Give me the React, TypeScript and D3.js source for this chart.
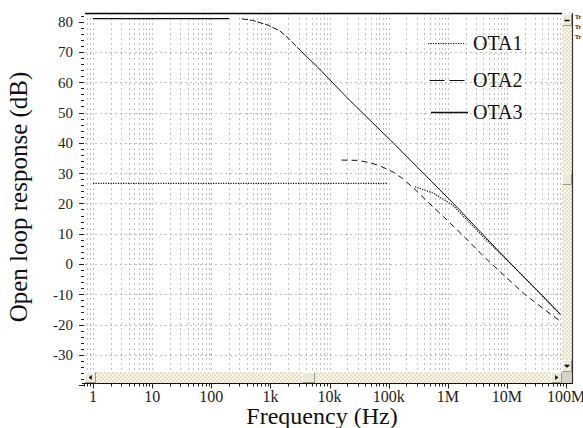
import React from "react";
import * as d3 from "d3";

// ---- data ----
const xTickValues = [1, 10, 100, 1e3, 1e4, 1e5, 1e6, 1e7, 1e8];
const xTickLabels = ["1", "10", "100", "1k", "10k", "100k", "1M", "10M", "100M"];
const yTickValues = [80, 70, 60, 50, 40, 30, 20, 10, 0, -10, -20, -30];
const seriesNames = ["OTA1", "OTA2", "OTA3"];

const ota1Freq = [1, 10, 100, 1000, 10000, 95000, null, 280000, 570000, 1.2e6, 4e6, 1e7, 4e7, 8e7];
const ota1Db = [26.6, 26.6, 26.6, 26.6, 26.6, 26.6, null, 25.5, 23.4, 19.5, 8.9, 1.4, -10.5, -16.6];

const ota2Freq = [16000, 30000, 50000, 75000, 120000, 170000, 280000, 500000, 850000, 2e6, 4e6, 1e7, 2e7, 4e7, 7.5e7];
const ota2Db = [34.3, 34.2, 33.4, 32.2, 30.3, 28.3, 24.6, 19.8, 15.6, 8.6, 2.6, -4.6, -10, -14.5, -18.5];

const ota3Freq = [1, 10, 100, 200, null, 330, 500, 920, 1450, 2150, 3200, 6200, 22000, 107000, 1.23e6, 1e7, 4e7, 8e7];
const ota3Db = [81, 81, 81, 81, null, 80.9, 80.4, 78.8, 76.9, 74.0, 70.5, 65.1, 54, 40.9, 20.1, 1.4, -10.5, -16.6];

type Pt = { f: number | null; v: number | null };
const zip = (fs: (number | null)[], vs: (number | null)[]): Pt[] => fs.map((f, i) => ({ f, v: vs[i] }));

const W = 583;
const H = 428;
const plotL = 85;
const plotR = 562;
const plotT = 13;
const hsbT = 372;
const axisY = 383.5;
const serif = "Liberation Serif";

export default function App() {
  const x = d3.scaleLog().domain([1, 1e8]).range([93, 566]);
  const y = d3.scaleLinear().domain([0, 80]).range([264, 21.6]);

  const line = d3
    .line<Pt>()
    .defined((d) => d.f != null && d.v != null)
    .x((d) => x(d.f as number))
    .y((d) => y(d.v as number));

  const logVals: number[] = [];
  for (let k = -1; k <= 8; k++) {
    for (let m = 1; m <= 9; m++) logVals.push(m * Math.pow(10, k));
  }
  const gridX = logVals.filter((f) => x(f) >= plotL && x(f) < plotR);
  const tickX = logVals.filter((f) => x(f) >= 82 && x(f) <= 572);
  const yMinor = d3.range(-40, 84, 2);

  const ota3 = zip(ota3Freq, ota3Db);
  const ota3Dashed = ota3.filter((d) => d.f != null && d.f > 300 && d.f <= 3200);
  const ota3B = ota3.filter((d) => d.f != null && d.f >= 3200);
  const ota3Flat = ota3.filter((d) => d.f != null && d.f <= 200);

  const legendY = [43, 80, 112];
  const legendDash = ["1.2,1.3", "15,5", ""];
  const txt = (size: number) => ({ fontFamily: serif, fontSize: size });

  return (
    <svg width={W} height={H} style={{ position: "absolute", left: 0, top: 0, display: "block", background: "#fff" }}>
      <defs>
        <pattern id="chk" width="4" height="4" patternUnits="userSpaceOnUse">
          <rect width="4" height="4" fill="#f8f6ec" />
          <rect width="2" height="2" fill="#e6e1c6" />
          <rect x="2" y="2" width="2" height="2" fill="#e6e1c6" />
        </pattern>
        <clipPath id="plotclip">
          <rect x={plotL} y={plotT} width={plotR - plotL} height={hsbT - plotT} />
        </clipPath>
      </defs>

      {/* grid */}
      <g stroke="#c2c2c2" strokeWidth={1} strokeDasharray="2,3" fill="none">
        {gridX.map((f, i) => (
          <line key={"gx" + i} x1={Math.round(x(f)) + 0.5} x2={Math.round(x(f)) + 0.5} y1={plotT} y2={hsbT} />
        ))}
        {yTickValues
          .filter((v) => v < 80)
          .map((v) => (
            <line key={"gy" + v} x1={plotL} x2={plotR} y1={Math.round(y(v)) + 0.5} y2={Math.round(y(v)) + 0.5} />
          ))}
      </g>

      {/* curves */}
      <g clipPath="url(#plotclip)" fill="none" stroke="#111" strokeWidth={1}>
        <path d={line(zip(ota1Freq, ota1Db)) || ""} strokeDasharray="1.2,1.3" strokeWidth={1.2} />
        <path d={line(zip(ota2Freq, ota2Db)) || ""} strokeDasharray="6,4" />
        <path d={line(ota3Flat) || ""} strokeWidth={1.2} />
        <path d={line(ota3Dashed) || ""} strokeDasharray="6,2" />
        <path d={line(ota3B) || ""} />
      </g>

      {/* legend */}
      {seriesNames.map((name, i) => (
        <g key={name}>
          <line
            x1={428 + i * 1.5}
            x2={465 + i * 1.5}
            y1={legendY[i] + 0.5}
            y2={legendY[i] + 0.5}
            stroke="#111"
            strokeWidth={i === 2 ? 1.5 : 1.2}
            strokeDasharray={legendDash[i] || undefined}
          />
          <text x={473} y={legendY[i] + 7} style={txt(20)} fill="#111">
            {name}
          </text>
        </g>
      ))}

      {/* top frame */}
      <line x1={plotL} x2={plotR} y1={13.5} y2={13.5} stroke="#000" strokeWidth={1.5} />

      {/* y axis */}
      <g stroke="#222" strokeWidth={1}>
        {yMinor.map((v) => (
          <line key={"ym" + v} x1={v % 10 === 0 ? 79 : 81} x2={84} y1={Math.round(y(v)) + 0.5} y2={Math.round(y(v)) + 0.5} />
        ))}
      </g>
      {yTickValues.map((v) => (
        <text key={"yl" + v} x={73} y={y(v)} dy="0.36em" textAnchor="end" style={txt(15)} fill="#222">
          {v}
        </text>
      ))}

      {/* scrollbars */}
      <rect x={plotL} y={hsbT} width={plotR - plotL} height={axisY - hsbT} fill="url(#chk)" />
      <rect x={plotR} y={plotT} width={10} height={hsbT - plotT} fill="url(#chk)" />
      {[
        { bx: plotL, by: hsbT, bw: 11, bh: 11, a: "l" },
        { bx: 551, by: hsbT, bw: 11, bh: 11, a: "r" },
        { bx: plotR, by: plotT + 1, bw: 10, bh: 12, a: "u" },
        { bx: plotR, by: 360, bw: 10, bh: 12, a: "d" },
        { bx: 302, by: hsbT, bw: 13, bh: 11, a: "" },
        { bx: plotR, by: 173, bw: 10, bh: 12, a: "" },
      ].map((b, i) => {
        const cx = b.bx + b.bw / 2;
        const cy = b.by + b.bh / 2;
        let tri = "";
        if (b.a === "l") tri = `M${cx + 1},${cy - 2}L${cx - 1.5},${cy}L${cx + 1},${cy + 2}Z`;
        if (b.a === "r") tri = `M${cx - 1},${cy - 2}L${cx + 1.5},${cy}L${cx - 1},${cy + 2}Z`;
        if (b.a === "u") tri = `M${cx - 2.5},${cy + 0.5}L${cx + 2.5},${cy + 0.5}`;
        if (b.a === "d") tri = `M${cx - 2.5},${cy - 1}L${cx + 2.5},${cy - 1}L${cx},${cy + 1.5}Z`;
        return (
          <g key={"btn" + i}>
            <rect x={b.bx} y={b.by} width={b.bw} height={b.bh} fill="#ece9d8" />
            <path d={`M${b.bx + 0.5},${b.by + b.bh - 0.5}V${b.by + 0.5}H${b.bx + b.bw - 0.5}`} stroke="#fff" fill="none" />
            <path d={`M${b.bx + 0.5},${b.by + b.bh - 0.5}H${b.bx + b.bw - 0.5}V${b.by + 0.5}`} stroke="#9d9a8a" fill="none" />
            {tri && <path d={tri} fill="#000" stroke="#000" strokeWidth={b.a === "u" ? 1.5 : 0.5} />}
          </g>
        );
      })}
      <rect x={plotR} y={hsbT} width={10} height={axisY - hsbT} fill="#d6d3c6" />

      {/* right border */}
      <line x1={572.5} x2={572.5} y1={13} y2={axisY} stroke="#333" strokeWidth={1.2} />

      {/* x axis */}
      <line x1={82} x2={573} y1={axisY} y2={axisY} stroke="#111" strokeWidth={1} />
      <g stroke="#222" strokeWidth={1}>
        {tickX.map((f, i) => {
          const major = xTickValues.some((t) => Math.abs(t - f) / t < 1e-9);
          return (
            <line key={"xt" + i} x1={Math.round(x(f)) + 0.5} x2={Math.round(x(f)) + 0.5} y1={axisY} y2={axisY + (major ? 5 : 3)} />
          );
        })}
      </g>
      {xTickValues.map((f, i) => (
        <text key={"xl" + i} x={x(f)} y={402} textAnchor="middle" style={txt(16)} fill="#222">
          {xTickLabels[i]}
        </text>
      ))}

      {/* tiny clipped texts at right edge */}
      {[19, 29, 39].map((ty, i) => (
        <text key={"tr" + i} x={575} y={ty} style={txt(6)} fontWeight="bold" fill="#222">
          Tr
        </text>
      ))}

      {/* axis titles */}
      <text x={322} y={424} textAnchor="middle" style={txt(24)} fill="#111">
        Frequency (Hz)
      </text>
      <text transform={`translate(27,197) rotate(-90)`} textAnchor="middle" style={txt(25)} fill="#111">
        Open loop response (dB)
      </text>
    </svg>
  );
}
